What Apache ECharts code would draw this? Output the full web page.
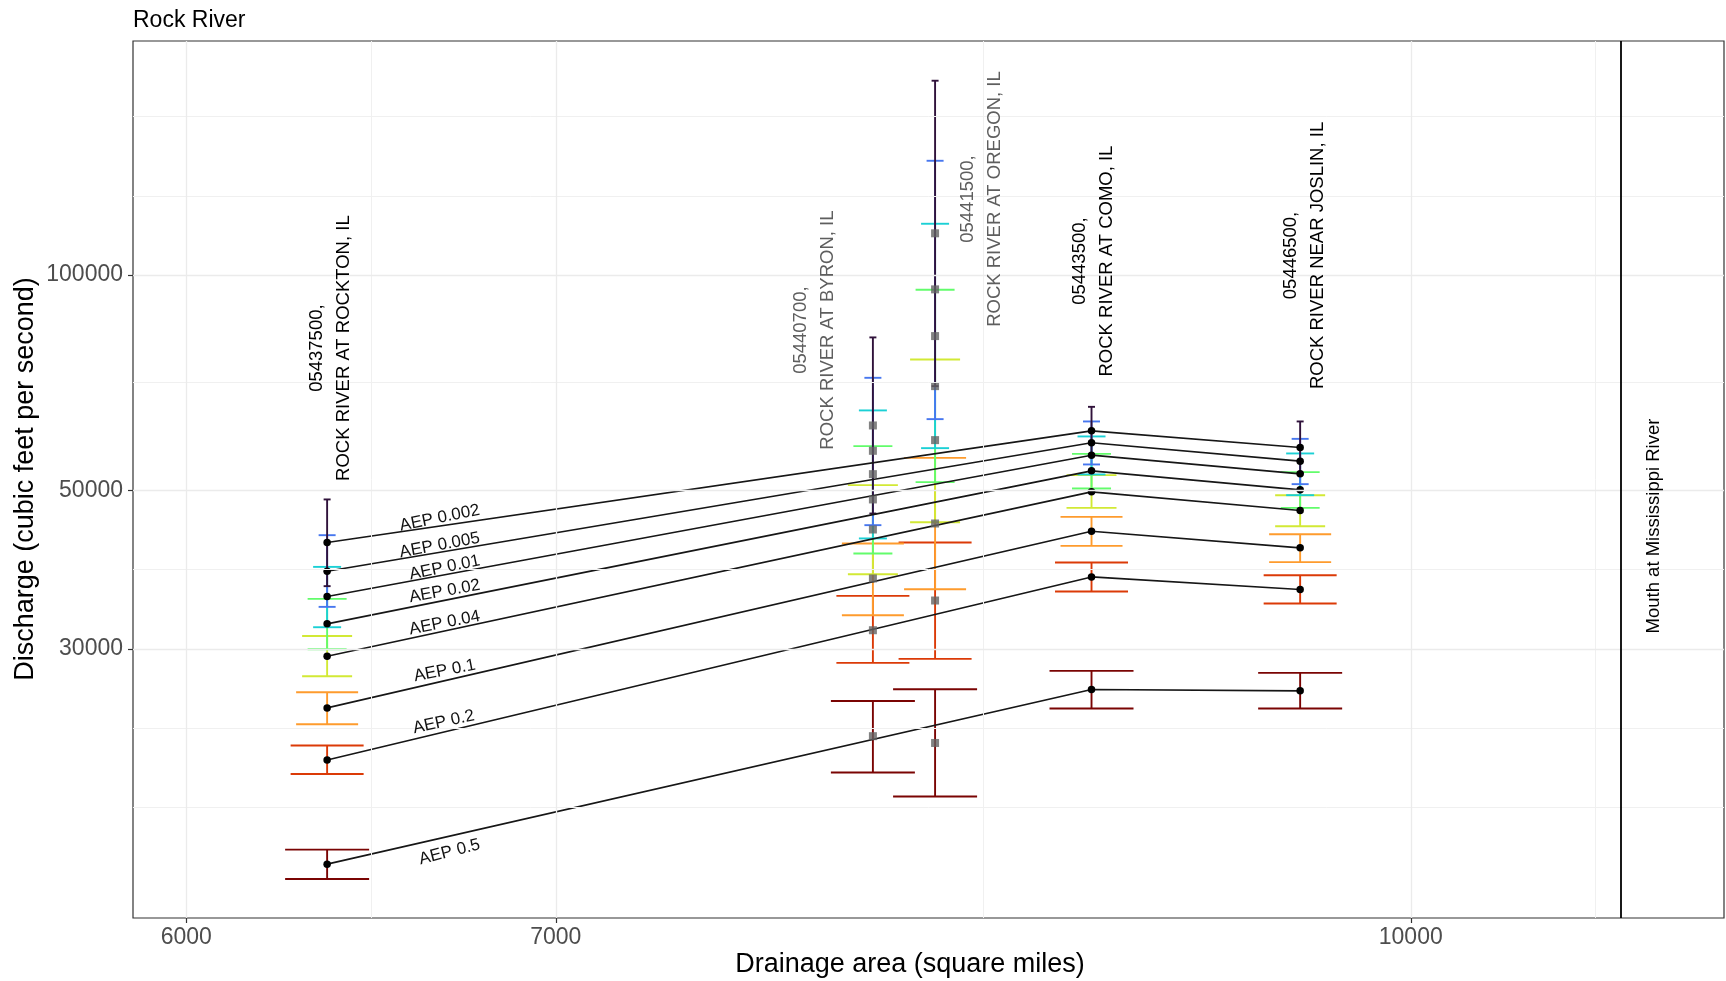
<!DOCTYPE html>
<html>
<head>
<meta charset="utf-8">
<title>Rock River</title>
<script src="https://cdn.jsdelivr.net/npm/echarts@6/dist/echarts.min.js"></script>
<style>
  html, body { margin: 0; padding: 0; background: #fff; }
  #main { width: 1726px; height: 981px; }
</style>
</head>
<body>
<div id="main"></div>
<script>
// ---- data ---------------------------------------------------------------
const aepLevels = ['0.002', '0.005', '0.01', '0.02', '0.04', '0.1', '0.2', '0.5'];

const stationIds   = ['05437500', '05440700', '05441500', '05443500', '05446500'];
const stationNames = ['ROCK RIVER AT ROCKTON, IL', 'ROCK RIVER AT BYRON, IL',
                      'ROCK RIVER AT OREGON, IL', 'ROCK RIVER AT COMO, IL',
                      'ROCK RIVER NEAR JOSLIN, IL'];
const drainageArea = [6363, 7990, 8200, 8753, 9549];   // square miles
const onMainLine   = [true, false, false, true, true];  // stations joined by the AEP lines
const mouthArea    = 10915;
const mouthLabel   = 'Mouth at Mississippi River';

// peak discharge (cfs) by AEP, with lower / upper confidence limits
const rocktonQ    = [42270, 38530, 35520, 32520, 29300, 24810, 20980, 15000];
const rocktonLow  = [36720, 34350, 32170, 29970, 27470, 23540, 20050, 14300];
const rocktonHigh = [48550, 43270, 39070, 35240, 31280, 26090, 21980, 15720];

const byronQ    = [61610, 56780, 52670, 48550, 44070, 37640, 31860, 22650];
const byronLow  = [46400, 44690, 42820, 40790, 38160, 33440, 28680, 20150];
const byronHigh = [81810, 71830, 64670, 57640, 50840, 42130, 35590, 25370];

const oregonQ    = [114400, 95500, 82160, 69930, 58770, 44930, 35060, 22160];
const oregonLow  = [69930, 62880, 57270, 51330, 45120, 36360, 29050, 18650];
const oregonHigh = [187000, 144500, 117970, 95370, 76210, 55510, 42270, 26350];

const comoQ    = [60550, 58260, 55990, 53230, 49750, 43830, 37830, 26320];
const comoLow  = [56050, 54340, 52620, 50300, 47250, 41810, 36090, 24760];
const comoHigh = [65420, 62410, 59470, 56230, 52500, 45900, 39630, 27950];

const joslinQ    = [57400, 54920, 52720, 50070, 46860, 41540, 36330, 26210];
const joslinLow  = [52790, 51000, 49220, 47250, 44540, 39670, 34730, 24760];
const joslinHigh = [62410, 59010, 56300, 53010, 49220, 43410, 38040, 27770];

// axis ticks and grid breaks
const xTicks = [6000, 7000, 10000];
const xMinorBreaks = [6481, 8367, 10801];
const yTicks = [30000, 50000, 100000];
const yMinorBreaks = [18000, 23238, 38730, 70711, 129100, 166667];

// ---- styling ------------------------------------------------------------
const FONT = '"Liberation Sans", Arial, Helvetica, sans-serif';
const aepColors = ['#30123B', '#4777EF', '#1BD0D5', '#62FC6B', '#D2E935', '#FE9B2D', '#DB3A07', '#7A0403'];
const capWidths = [7, 17, 28, 39, 50, 62, 73, 84];   // px, error-bar cap width per AEP
const stationLabelDx = [3, -58, 46, 2, 4];              // px shift of the station captions
const stationLabelQ  = [79040, 83760, 127740, 104610, 106520]; // caption centre height (cfs)
const aepLabelArea = 6680;                              // caption position along the lines
const aepLabelDx  = [-4, -4, 1, 1, 1, 1, 0, 6];
const aepLabelDy  = [-8, -7, -7, -9, -8, -10, -10, 16];
const aepLabelRot = [11.5, 10.6, 11.6, 10.2, 11, 11, 12.3, 14.4];

const qByStation    = [rocktonQ, byronQ, oregonQ, comoQ, joslinQ];
const lowByStation  = [rocktonLow, byronLow, oregonLow, comoLow, joslinLow];
const highByStation = [rocktonHigh, byronHigh, oregonHigh, comoHigh, joslinHigh];

// error bars: widest (AEP 0.5) first so the rarer events are drawn on top
const errorBarData = [];
for (let k = aepLevels.length - 1; k >= 0; k--) {
  for (let s = 0; s < drainageArea.length; s++) {
    errorBarData.push([drainageArea[s], lowByStation[s][k], highByStation[s][k], k]);
  }
}

const chart = echarts.init(document.getElementById('main'), null, { renderer: 'canvas' });

const gridLineSeries = {
  type: 'line',
  data: [],
  silent: true,
  z: 0,
  markLine: {
    silent: true,
    symbol: ['none', 'none'],
    label: { show: false },
    animation: false,
    data: [
      ...xMinorBreaks.map(v => ({ xAxis: v, lineStyle: { color: '#F0F0F0', width: 1, type: 'solid' } })),
      ...yMinorBreaks.map(v => ({ yAxis: v, lineStyle: { color: '#F0F0F0', width: 1, type: 'solid' } })),
      ...xTicks.map(v => ({ xAxis: v, lineStyle: { color: '#EBEBEB', width: 1.3, type: 'solid' } })),
      ...yTicks.map(v => ({ yAxis: v, lineStyle: { color: '#EBEBEB', width: 1.3, type: 'solid' } }))
    ]
  }
};

const mouthSeries = {
  type: 'line',
  data: [],
  silent: true,
  z: 1,
  markLine: {
    silent: true,
    symbol: ['none', 'none'],
    label: { show: false },
    animation: false,
    data: [{ xAxis: mouthArea, lineStyle: { color: '#000', width: 1.8, type: 'solid' } }]
  }
};

const errorBarSeries = {
  type: 'custom',
  z: 2,
  silent: true,
  data: errorBarData,
  encode: { x: 0, y: [1, 2] },
  renderItem: function (params, api) {
    const x = api.value(0);
    const k = api.value(3);
    const pLo = api.coord([x, api.value(1)]);
    const pHi = api.coord([x, api.value(2)]);
    const half = capWidths[k] / 2;
    const style = { stroke: aepColors[k], lineWidth: 1.9, fill: null };
    return {
      type: 'group',
      children: [
        { type: 'line', shape: { x1: pLo[0], y1: pLo[1], x2: pHi[0], y2: pHi[1] }, style: style },
        { type: 'line', shape: { x1: pLo[0] - half, y1: pLo[1], x2: pLo[0] + half, y2: pLo[1] }, style: style },
        { type: 'line', shape: { x1: pHi[0] - half, y1: pHi[1], x2: pHi[0] + half, y2: pHi[1] }, style: style }
      ]
    };
  }
};

// AEP lines joining the main-line stations
const aepLineSeries = aepLevels.map((aep, k) => ({
  type: 'line',
  name: 'AEP ' + aep,
  z: 3,
  silent: true,
  symbol: 'circle',
  symbolSize: 7.5,
  itemStyle: { color: '#000' },
  lineStyle: { color: '#161616', width: 1.6 },
  data: drainageArea.map((a, s) => onMainLine[s] ? [a, qByStation[s][k]] : null).filter(d => d)
}));

// off-line stations shown as grey squares
const offLinePoints = [];
drainageArea.forEach((a, s) => {
  if (!onMainLine[s]) aepLevels.forEach((aep, k) => offLinePoints.push([a, qByStation[s][k]]));
});
const offLineSeries = {
  type: 'scatter',
  z: 4,
  silent: true,
  symbol: 'rect',
  symbolSize: 8,
  itemStyle: { color: '#636363' },
  data: offLinePoints
};

const plainNumber = v => String(Math.round(v));

chart.setOption({
  animation: false,
  backgroundColor: '#ffffff',
  grid: {
    left: 133, top: 41, width: 1591, height: 877,
    show: true, borderColor: '#333333', borderWidth: 1.2, backgroundColor: '#ffffff',
    containLabel: false
  },
  xAxis: {
    type: 'log', logBase: 10, min: 5868, max: 11396,
    axisLine: { show: false },
    axisTick: { show: true, customValues: xTicks, length: 5, lineStyle: { color: '#333', width: 1.2 } },
    axisLabel: { customValues: xTicks, formatter: plainNumber, color: '#4D4D4D', fontSize: 23, fontFamily: FONT, margin: 8 },
    splitLine: { show: false },
    minorTick: { show: false }
  },
  yAxis: {
    type: 'log', logBase: 10, min: 12611, max: 212518,
    axisLine: { show: false },
    axisTick: { show: true, customValues: yTicks, length: 5, lineStyle: { color: '#333', width: 1.2 } },
    axisLabel: { customValues: yTicks, formatter: plainNumber, color: '#4D4D4D', fontSize: 23, fontFamily: FONT, margin: 10 },
    splitLine: { show: false }
  },
  series: [gridLineSeries, mouthSeries, errorBarSeries, ...aepLineSeries, offLineSeries]
});

// ---- captions, placed through the chart's own coordinate system -----------
function px(area, q) { return chart.convertToPixel({ gridIndex: 0 }, [area, q]); }

const graphics = [];

graphics.push({
  type: 'text', x: 133, y: 21, z: 100, silent: true,
  style: { text: 'Rock River', font: '23px ' + FONT, fill: '#000', textAlign: 'left', textVerticalAlign: 'middle' }
});
graphics.push({
  type: 'text', x: 910, y: 965, z: 100, silent: true,
  style: { text: 'Drainage area (square miles)', font: '27px ' + FONT, fill: '#000', textAlign: 'center', textVerticalAlign: 'middle' }
});
graphics.push({
  type: 'text', x: 26, y: 479, rotation: Math.PI / 2, z: 100, silent: true,
  style: { text: 'Discharge (cubic feet per second)', font: '27px ' + FONT, fill: '#000', textAlign: 'center', textVerticalAlign: 'middle' }
});

// station captions
drainageArea.forEach((a, s) => {
  const p = px(a, stationLabelQ[s]);
  graphics.push({
    type: 'text', x: p[0] + stationLabelDx[s], y: p[1], rotation: Math.PI / 2, z: 100, silent: true,
    style: {
      text: stationIds[s] + ',\n' + stationNames[s],
      font: '18.5px ' + FONT, lineHeight: 27,
      fill: onMainLine[s] ? '#000000' : '#5E5E5E',
      textAlign: 'center', textVerticalAlign: 'middle'
    }
  });
});

// mouth caption, just right of the mouth line
const pm = px(mouthArea, 30000);
graphics.push({
  type: 'text', x: pm[0] + 33, y: 526, rotation: Math.PI / 2, z: 100, silent: true,
  style: { text: mouthLabel, font: '18.5px ' + FONT, fill: '#000', textAlign: 'center', textVerticalAlign: 'middle' }
});

// AEP captions along the Rockton - Como segment of each line
const first = onMainLine.indexOf(true);
const second = onMainLine.indexOf(true, first + 1);
aepLevels.forEach((aep, k) => {
  const p1 = px(drainageArea[first], qByStation[first][k]);
  const p2 = px(drainageArea[second], qByStation[second][k]);
  const lx = px(aepLabelArea, 30000)[0] + aepLabelDx[k];
  const ly = p1[1] + (p2[1] - p1[1]) * (lx - p1[0]) / (p2[0] - p1[0]) + aepLabelDy[k];
  graphics.push({
    type: 'text', x: lx, y: ly, rotation: aepLabelRot[k] * Math.PI / 180, z: 100, silent: true,
    style: { text: 'AEP ' + aep, font: '17px ' + FONT, fill: '#111', textAlign: 'center', textVerticalAlign: 'middle' }
  });
});

chart.setOption({ graphic: graphics });
</script>
</body>
</html>
